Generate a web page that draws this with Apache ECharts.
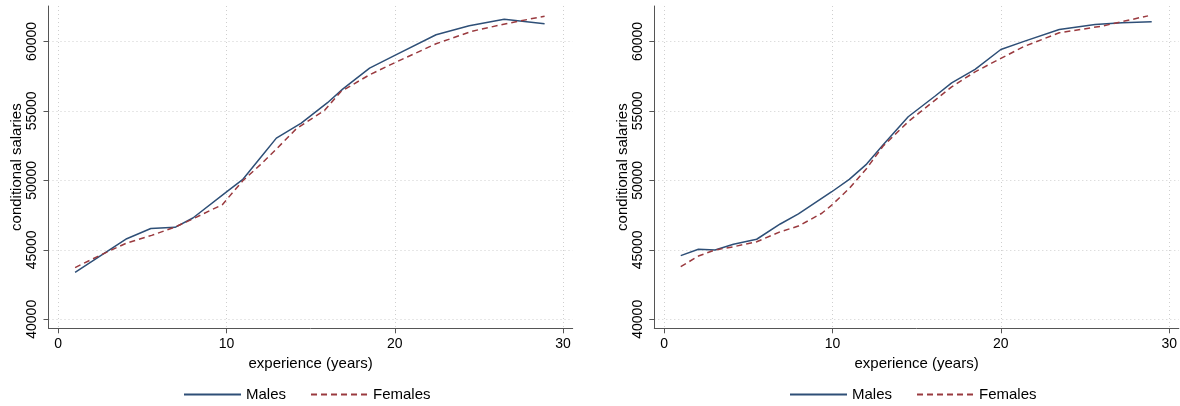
<!DOCTYPE html>
<html>
<head>
<meta charset="utf-8">
<script src="https://cdn.jsdelivr.net/npm/echarts@6/dist/echarts.min.js"></script>
<style>
html,body{margin:0;padding:0;background:#fff;}
#chart{width:1180px;height:406px;}
</style>
</head>
<body>
<div id="chart"></div>
<script>
// ---- data ----
const seriesNames = ['Males', 'Females'];
const xTicks = [0, 10, 20, 30];
const yTicks = [40000, 45000, 50000, 55000, 60000];

// left panel
const leftMalesExp = [1.0, 4.07, 5.5, 6.94, 8.0, 10.0, 10.95, 12.0, 12.96, 14.44, 16.0, 16.9, 18.5, 20.0, 22.45, 24.42, 26.5, 28.9];
const leftMalesSal = [43370, 45800, 46530, 46620, 47290, 49170, 50050, 51610, 53040, 54120, 55590, 56570, 58080, 59000, 60480, 61130, 61590, 61270];
const leftFemalesExp = [1.0, 2.7, 4.07, 5.55, 6.94, 8.02, 9.75, 10.95, 12.0, 13.0, 14.15, 15.83, 16.8, 18.5, 20.07, 22.45, 24.6, 26.4, 28.9];
const leftFemalesSal = [43720, 44730, 45490, 46040, 46640, 47240, 48250, 49950, 51110, 52300, 53720, 55040, 56400, 57600, 58510, 59830, 60740, 61220, 61820];

// right panel
const rightMalesExp = [0.99, 2.04, 3.03, 4.12, 5.5, 6.9, 7.98, 9.96, 11.0, 12.03, 13.0, 14.5, 16.1, 17.08, 18.47, 20.0, 21.42, 23.47, 25.6, 27.2, 28.96];
const rightMalesSal = [44580, 45040, 44990, 45400, 45760, 46860, 47580, 49180, 50070, 51170, 52550, 54580, 56070, 57020, 57990, 59420, 60020, 60860, 61220, 61340, 61410];
const rightFemalesExp = [0.99, 2.04, 3.03, 4.12, 5.5, 6.9, 7.98, 9.37, 9.96, 11.0, 12.03, 13.0, 14.5, 16.1, 17.08, 18.47, 20.0, 21.42, 23.47, 26.0, 28.74];
const rightFemalesSal = [43790, 44550, 44990, 45220, 45580, 46300, 46710, 47630, 48220, 49420, 50860, 52450, 54220, 55780, 56730, 57810, 58780, 59660, 60620, 61100, 61840];

// ---- styling ----
const FONT = '"Liberation Sans", Arial, Helvetica, sans-serif';
const MALE_COLOR = '#2e4f77';
const FEMALE_COLOR = '#9a3a3f';
const AXIS_COLOR = '#555555';
const GRID_COLOR = '#cfcfcf';

function pairs(xs, ys) { return xs.map((x, i) => [x, ys[i]]); }

function xAxisFor(gridIndex) {
  return {
    type: 'value', gridIndex: gridIndex,
    min: -0.58, max: 30.57,
    name: 'experience (years)', nameLocation: 'middle', nameGap: 27,
    nameTextStyle: { fontFamily: FONT, fontSize: 15, color: '#000' },
    axisLine: { show: true, onZero: false, lineStyle: { color: AXIS_COLOR, width: 1 } },
    axisTick: { show: true, length: 5, lineStyle: { color: AXIS_COLOR }, customValues: xTicks },
    axisLabel: { customValues: xTicks, margin: 9, fontFamily: FONT, fontSize: 14, color: '#000', showMinLabel: true, showMaxLabel: true },
    splitLine: { show: true, lineStyle: { color: GRID_COLOR, type: [1, 3], width: 1 } }
  };
}
function yAxisFor(gridIndex) {
  return {
    type: 'value', gridIndex: gridIndex,
    min: 39350, max: 62550,
    name: 'conditional salaries', nameLocation: 'middle', nameGap: 24,
    nameTextStyle: { fontFamily: FONT, fontSize: 15, color: '#000' },
    axisLine: { show: true, onZero: false, lineStyle: { color: AXIS_COLOR, width: 1 } },
    axisTick: { show: true, length: 5, lineStyle: { color: AXIS_COLOR }, customValues: yTicks },
    axisLabel: { customValues: yTicks, rotate: 90, margin: 9, fontFamily: FONT, fontSize: 14, color: '#000', hideOverlap: false,
                 formatter: function (v) { return String(Math.round(v)); } },
    splitLine: { show: true, lineStyle: { color: GRID_COLOR, type: [1, 3], width: 1 } }
  };
}
function lineSeries(name, idx, data, color, dashed) {
  return {
    name: name, type: 'line', xAxisIndex: idx, yAxisIndex: idx,
    data: data, showSymbol: false, symbol: 'none', animation: false,
    lineStyle: { color: color, width: 1.5, type: dashed ? [6, 4] : 'solid' },
    itemStyle: { color: color }
  };
}
function legendAt(left) {
  return {
    left: left, top: 382, itemWidth: 57, itemHeight: 14, itemGap: 24, selectedMode: false,
    itemStyle: { opacity: 0 },
    textStyle: { fontFamily: FONT, fontSize: 15, color: '#000' }, data: seriesNames
  };
}

const chart = echarts.init(document.getElementById('chart'), null, { renderer: 'canvas' });
chart.setOption({
  backgroundColor: '#ffffff',
  animation: false,
  textStyle: { fontFamily: FONT },
  grid: [
    { left: 48.5, right: 607.3, top: 6, bottom: 77.7, containLabel: false },
    { left: 654.3, right: 1, top: 6, bottom: 77.7, containLabel: false }
  ],
  xAxis: [xAxisFor(0), xAxisFor(1)],
  yAxis: [yAxisFor(0), yAxisFor(1)],
  legend: [legendAt(178), legendAt(784)],
  series: [
    lineSeries(seriesNames[0], 0, pairs(leftMalesExp, leftMalesSal), MALE_COLOR, false),
    lineSeries(seriesNames[1], 0, pairs(leftFemalesExp, leftFemalesSal), FEMALE_COLOR, true),
    lineSeries(seriesNames[0], 1, pairs(rightMalesExp, rightMalesSal), MALE_COLOR, false),
    lineSeries(seriesNames[1], 1, pairs(rightFemalesExp, rightFemalesSal), FEMALE_COLOR, true)
  ]
});
</script>
</body>
</html>
